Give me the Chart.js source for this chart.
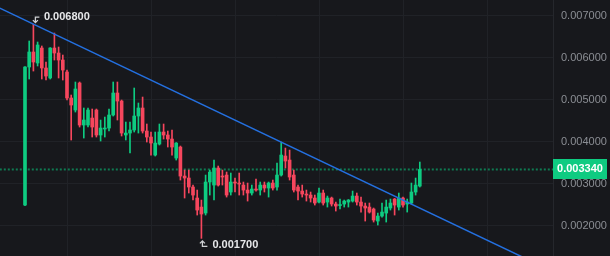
<!DOCTYPE html>
<html><head><meta charset="utf-8">
<script src="https://cdn.jsdelivr.net/npm/chart.js@4.4.0/dist/chart.umd.min.js"></script>
<style>html,body{margin:0;padding:0;background:#17181c;overflow:hidden}#wrap{width:610px;height:256px;position:relative}</style>
</head><body><div id="wrap"><canvas id="c"></canvas></div>
<script>
const opens = [0.002493,0.005779,0.006136,0.005874,0.006231,0.005755,0.005517,0.006231,0.006112,0.005945,
0.005660,0.005041,0.004755,0.005398,0.004398,0.004398,0.004564,0.004755,0.004160,0.004303,
0.004326,0.004636,0.005160,0.004969,0.004160,0.004207,0.004279,0.004612,0.004803,0.004255,
0.004112,0.003683,0.003945,0.004231,0.004160,0.004064,0.003612,0.003874,0.003183,0.003136,
0.002922,0.002660,0.002445,0.002303,0.003041,0.002969,0.003374,0.003183,0.003207,0.002803,
0.003041,0.003017,0.002969,0.002850,0.002779,0.002874,0.002850,0.002969,0.002898,0.003017,
0.002922,0.003207,0.003660,0.003564,0.003207,0.002922,0.002826,0.002755,0.002731,0.002660,
0.002564,0.002779,0.002564,0.002660,0.002517,0.002481,0.002517,0.002564,0.002588,0.002707,
0.002564,0.002469,0.002445,0.002398,0.002112,0.002231,0.002302,0.002422,0.002636,0.002445,
0.002660,0.002517,0.002541,0.002803,0.002945];
const highs = [0.005790,0.006398,0.006800,0.006374,0.006279,0.005898,0.006240,0.006588,0.006255,0.006064,
0.005707,0.005112,0.005422,0.005422,0.004803,0.004803,0.004779,0.004779,0.004517,0.004588,
0.004779,0.005422,0.005422,0.004993,0.004469,0.004469,0.005279,0.004922,0.005064,0.004422,
0.004231,0.004231,0.004422,0.004422,0.004255,0.004279,0.003980,0.003898,0.003326,0.003326,
0.002969,0.002850,0.002612,0.003207,0.003326,0.003564,0.003422,0.003326,0.003279,0.003255,
0.003136,0.003255,0.003041,0.003017,0.002969,0.003112,0.003041,0.003041,0.003041,0.003088,
0.003493,0.003993,0.003850,0.003802,0.003326,0.002969,0.002969,0.002850,0.002803,0.002731,
0.002898,0.002850,0.002707,0.002683,0.002564,0.002636,0.002612,0.002625,0.002826,0.002779,
0.002683,0.002541,0.002541,0.002422,0.002302,0.002541,0.002612,0.002636,0.002650,0.002779,
0.002683,0.002636,0.003017,0.003136,0.003517];
const lows = [0.002480,0.005493,0.005683,0.005803,0.005493,0.005469,0.005493,0.005945,0.005517,0.005469,
0.004993,0.004041,0.004707,0.004350,0.004088,0.004350,0.004112,0.004112,0.004017,0.004112,
0.004255,0.004612,0.004517,0.004136,0.004041,0.003731,0.004231,0.004207,0.004207,0.003993,
0.003683,0.003660,0.003922,0.004064,0.003874,0.003683,0.003564,0.003088,0.002660,0.002779,
0.002612,0.002255,0.001700,0.002255,0.002731,0.002612,0.002945,0.002969,0.002683,0.002731,
0.002803,0.002731,0.002731,0.002588,0.002731,0.002826,0.002731,0.002803,0.002683,0.002850,
0.002850,0.003183,0.003374,0.003088,0.002803,0.002612,0.002683,0.002588,0.002564,0.002493,
0.002541,0.002493,0.002445,0.002469,0.002350,0.002398,0.002445,0.002445,0.002564,0.002493,
0.002326,0.002112,0.002302,0.002088,0.002017,0.002207,0.002088,0.002374,0.002255,0.002374,
0.002445,0.002326,0.002517,0.002731,0.002922];
const closes = [0.005779,0.006136,0.005898,0.006303,0.005755,0.005564,0.006231,0.006112,0.005945,0.005707,
0.005041,0.004874,0.005255,0.004398,0.004517,0.004755,0.004350,0.004160,0.004326,0.004326,
0.004636,0.005160,0.004969,0.004207,0.004207,0.004279,0.004612,0.004803,0.004255,0.004112,
0.003969,0.003969,0.004231,0.004160,0.004064,0.003874,0.003969,0.003183,0.003136,0.002922,
0.002731,0.002374,0.002279,0.003041,0.003279,0.003374,0.002969,0.003160,0.002731,0.003041,
0.003017,0.002993,0.002850,0.002779,0.002874,0.002850,0.002969,0.002898,0.003017,0.002898,
0.003207,0.003683,0.003541,0.003160,0.002850,0.002826,0.002755,0.002731,0.002660,0.002541,
0.002779,0.002541,0.002660,0.002517,0.002469,0.002493,0.002588,0.002612,0.002707,0.002564,
0.002469,0.002422,0.002326,0.002136,0.002231,0.002326,0.002445,0.002541,0.002493,0.002660,
0.002493,0.002564,0.002803,0.002969,0.003340];
const yTicks = [0.002,0.003,0.004,0.005,0.006,0.007];
const lastPrice = 0.003340;
const trendX = [-6, 126];
const trendY = [0.007181, 0.000896];

const GREEN = '#0ecb81', RED = '#f6465d';
const idx = opens.map((_, i) => i);
const colors = idx.map(i => closes[i] >= opens[i] ? GREEN : RED);
const hiIdx = highs.indexOf(Math.max(...highs));
const loIdx = lows.indexOf(Math.min(...lows));

const extras = {
  id: 'extras',
  beforeDraw(chart) {
    const c = chart.ctx; c.save(); c.fillStyle = '#17181c'; c.fillRect(0,0,chart.width,chart.height); c.restore();
  },
  afterDraw(chart) {
    const c = chart.ctx, xs = chart.scales.x, ys = chart.scales.y, a = chart.chartArea;
    c.save();
    c.strokeStyle = '#cfd1d4'; c.lineWidth = 1.3; c.fillStyle = '#e6e7e9';
    c.font = 'bold 11px "Liberation Sans", Arial, sans-serif'; c.textBaseline = 'middle'; c.textAlign = 'left';
    let px = xs.getPixelForValue(hiIdx), py = ys.getPixelForValue(highs[hiIdx]);
    c.beginPath(); c.moveTo(px+6, py-7); c.lineTo(px+2, py-7); c.lineTo(px+2, py-1.5);
    c.moveTo(px-0.5, py-4); c.lineTo(px+2, py-1.5); c.lineTo(px+4.5, py-4); c.stroke();
    c.fillText(highs[hiIdx].toFixed(6), px+10.5, py-7);
    px = xs.getPixelForValue(loIdx); py = ys.getPixelForValue(lows[loIdx]);
    c.beginPath(); c.moveTo(px+6, py+8); c.lineTo(px+1, py+8); c.lineTo(px+1, py+2.5);
    c.moveTo(px-1.5, py+5); c.lineTo(px+1, py+2.5); c.lineTo(px+3.5, py+5); c.stroke();
    c.fillText(lows[loIdx].toFixed(6), px+11, py+6.5);
    const ly = ys.getPixelForValue(lastPrice);
    c.fillStyle = GREEN; c.fillRect(a.right, Math.round(ly)-10, 54, 20);
    c.fillStyle = '#ffffff'; c.textAlign = 'center';
    c.fillText(lastPrice.toFixed(6), a.right+27, ly);
    c.restore();
  }
};

new Chart(document.getElementById('c'), {
  type: 'bar',
  data: {
    datasets: [
      { type: 'line', data: trendX.map((x, i) => ({x, y: trendY[i]})), borderColor: '#2470e0', borderWidth: 1.5, pointRadius: 0, order: 0 },
      { type: 'line', data: trendX.map(x => ({x, y: lastPrice})), borderColor: '#0f7a52', borderWidth: 2, borderDash: [2, 2], pointRadius: 0, order: 5 },
      { data: idx.map(i => ({x: i, y: [lows[i], highs[i]]})), backgroundColor: colors, barThickness: 1, grouped: false, order: 2 },
      { data: idx.map(i => ({x: i, y: [opens[i], closes[i]]})), backgroundColor: colors, barThickness: 3, minBarLength: 1, grouped: false, order: 1 }
    ]
  },
  options: {
    responsive: true, maintainAspectRatio: false, animation: false,
    layout: { padding: 0 },
    plugins: { legend: { display: false }, tooltip: { enabled: false } },
    scales: {
      x: { type: 'linear', offset: false, min: -5.952, max: 125.71,
        afterBuildTicks: s => { s.ticks = [0,20,40,60,80,100,120].map(v => ({value: v})); },
        afterFit: s => { s.height = 0; s.paddingLeft = 0; s.paddingRight = 0; },
        ticks: { display: false }, border: { display: false },
        grid: { color: '#202227', drawTicks: false } },
      y: { position: 'right', min: 0.00128, max: 0.007374,
        afterBuildTicks: s => { s.ticks = yTicks.map(v => ({value: v})); },
        afterFit: s => { s.width = 57; s.paddingTop = 0; s.paddingBottom = 0; },
        ticks: { color: '#8b8e94', padding: 8, font: { size: 11, family: '"Liberation Sans", Arial, sans-serif' }, callback: v => Number(v).toFixed(6) },
        border: { display: true, color: '#25272c' },
        grid: { color: '#202227', drawTicks: false } }
    }
  },
  plugins: [extras]
});
</script></body></html>
